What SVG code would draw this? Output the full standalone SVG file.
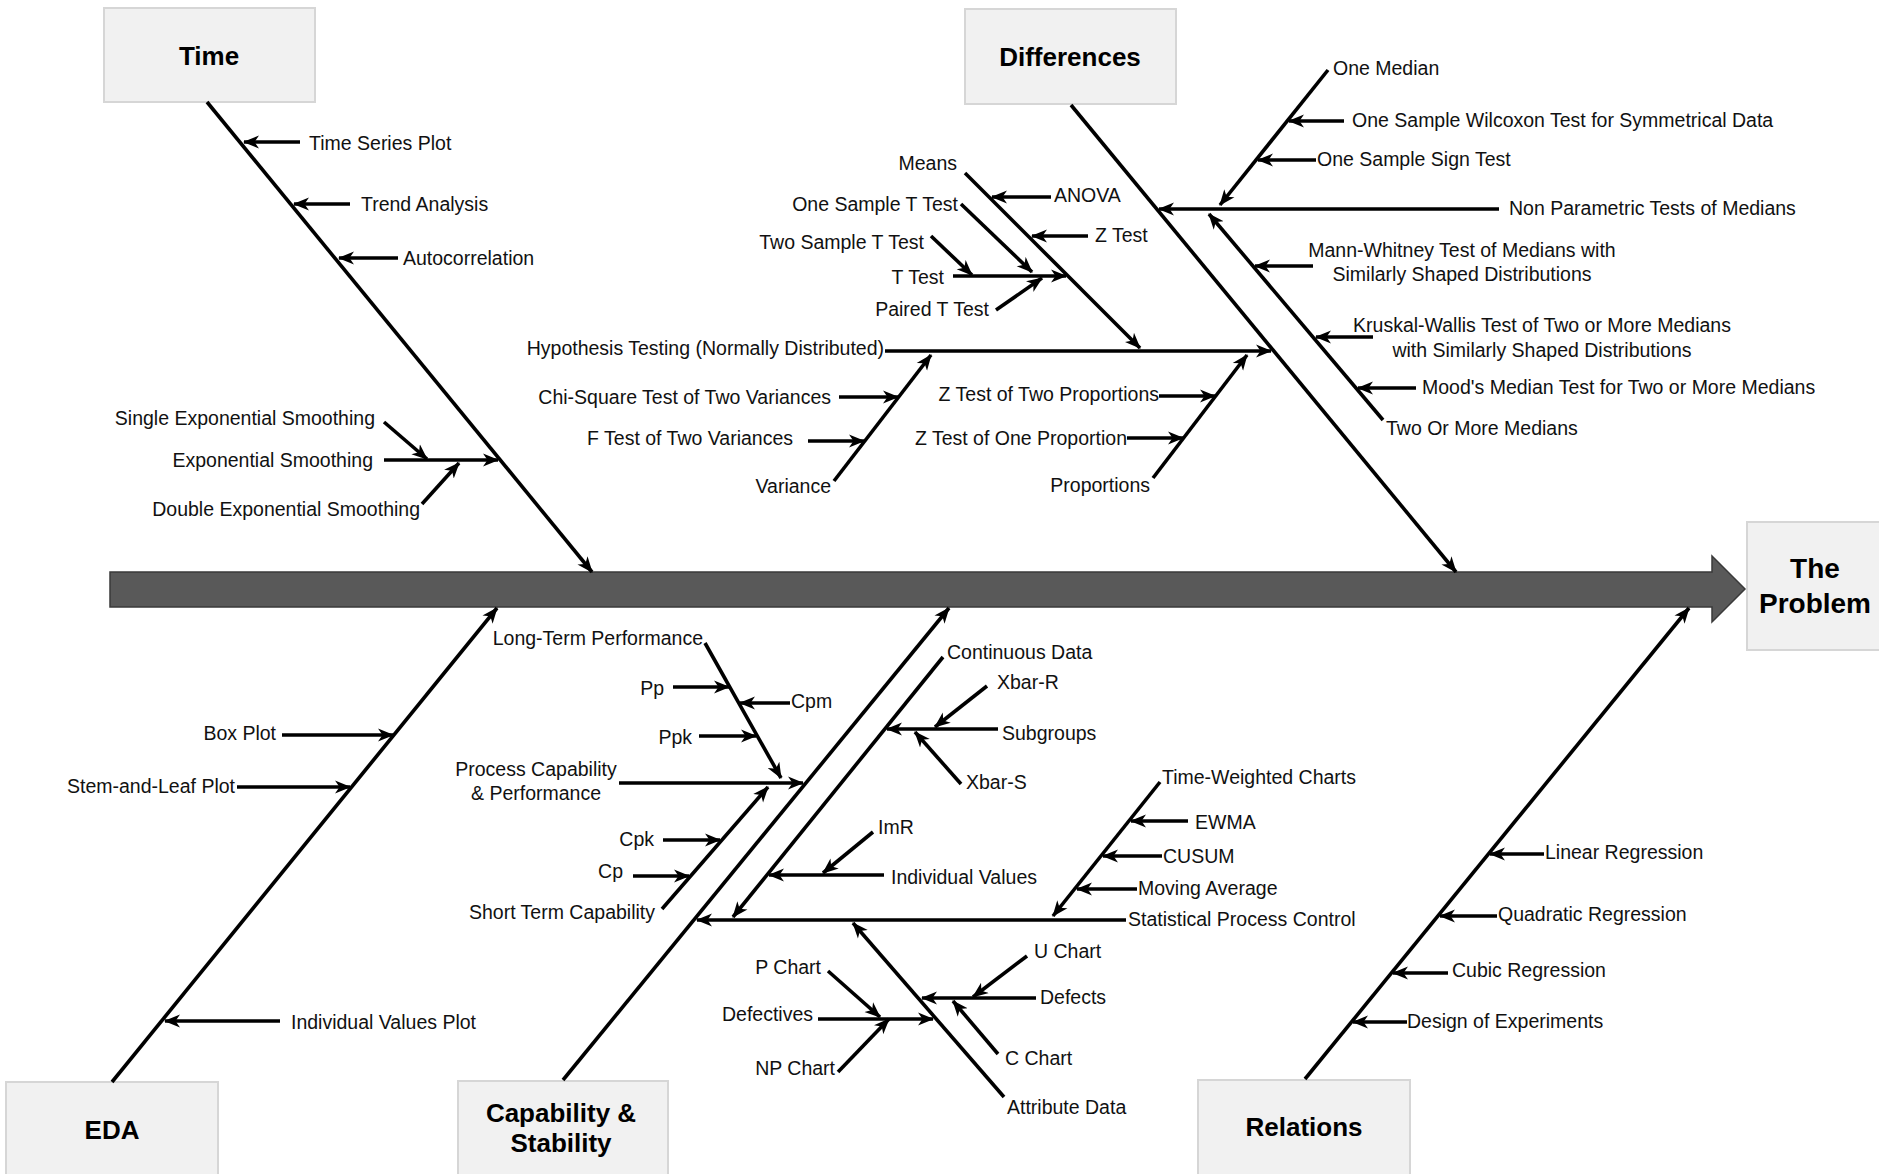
<svg xmlns="http://www.w3.org/2000/svg" width="1879" height="1174" viewBox="0 0 1879 1174">
<style>
.box{fill:#f1f1f1;stroke:#d6d6d6;stroke-width:2}
.hd{font-family:"Liberation Sans",Arial,sans-serif;font-weight:bold;font-size:26px;fill:#000;text-anchor:middle}
.t{font-family:"Liberation Sans",Arial,sans-serif;font-size:19.5px;fill:#111}
.e{text-anchor:end}
.m{text-anchor:middle}
.c line{stroke:#000;stroke-width:3.6;marker-end:url(#ah)}
</style>
<defs>
<marker id="ah" markerUnits="userSpaceOnUse" markerWidth="18" markerHeight="14" refX="15" refY="7" orient="auto">
<path d="M0,0.5 L16,7 L0,13.5 L4.5,7 Z" fill="#000"/>
</marker>
</defs>
<rect width="1879" height="1174" fill="#fff"/>

<g id="spine">
<polygon points="110,572 1712,572 1712,556 1745,589 1712,622 1712,607 110,607" fill="#595959" stroke="#3a3a3a" stroke-width="1.5"/>
</g>

<g id="node-problem"><rect class="box" x="1747" y="522" width="140" height="128"/><text class="hd" x="1815" y="578" style="font-size:28px">The</text><text class="hd" x="1815" y="613" style="font-size:28px">Problem</text></g>
<g id="node-time"><rect class="box" x="104" y="8" width="211" height="94"/><text class="hd" x="209" y="65">Time</text></g>
<g id="node-differences"><rect class="box" x="965" y="9" width="211" height="95"/><text class="hd" x="1070" y="66">Differences</text></g>
<g id="node-eda"><rect class="box" x="6" y="1082" width="212" height="100"/><text class="hd" x="112" y="1139">EDA</text></g>
<g id="node-capability"><rect class="box" x="458" y="1081" width="210" height="100"/><text class="hd" x="561" y="1122">Capability &amp;</text><text class="hd" x="561" y="1152">Stability</text></g>
<g id="node-relations"><rect class="box" x="1198" y="1080" width="212" height="100"/><text class="hd" x="1304" y="1136">Relations</text></g>

<g id="connectors" class="c">
<!-- main bones -->
<line x1="207" y1="102" x2="592" y2="572"/>
<line x1="1071" y1="105" x2="1456" y2="572"/>
<line x1="112" y1="1082" x2="497" y2="608"/>
<line x1="563" y1="1080" x2="949" y2="608"/>
<line x1="1305" y1="1079" x2="1689" y2="608"/>
<!-- time -->
<line x1="300" y1="142" x2="244" y2="142"/>
<line x1="350" y1="204" x2="294" y2="204"/>
<line x1="398" y1="258" x2="339" y2="258"/>
<line x1="384" y1="422" x2="427" y2="459"/>
<line x1="384" y1="460" x2="498" y2="460"/>
<line x1="422" y1="504" x2="459" y2="463"/>
<!-- eda -->
<line x1="282" y1="735" x2="393" y2="735"/>
<line x1="237" y1="787" x2="350" y2="787"/>
<line x1="280" y1="1021" x2="165" y2="1021"/>
<!-- differences: means -->
<line x1="965" y1="173" x2="1140" y2="348"/>
<line x1="1051" y1="197" x2="992" y2="197"/>
<line x1="1088" y1="236" x2="1032" y2="236"/>
<line x1="961" y1="204" x2="1032" y2="272"/>
<line x1="931" y1="236" x2="972" y2="275"/>
<line x1="953" y1="276" x2="1066" y2="276"/>
<line x1="996" y1="310" x2="1042" y2="278"/>
<line x1="885" y1="351" x2="1271" y2="351"/>
<line x1="834" y1="481" x2="931" y2="355"/>
<line x1="839" y1="397" x2="898" y2="397"/>
<line x1="808" y1="441" x2="864" y2="441"/>
<line x1="1153" y1="478" x2="1247" y2="355"/>
<line x1="1159" y1="396" x2="1215" y2="396"/>
<line x1="1127" y1="438" x2="1183" y2="438"/>
<!-- differences: medians -->
<line x1="1499" y1="209" x2="1159" y2="209"/>
<line x1="1328" y1="70" x2="1220" y2="205"/>
<line x1="1344" y1="121" x2="1289" y2="121"/>
<line x1="1316" y1="160" x2="1258" y2="160"/>
<line x1="1383" y1="420" x2="1209" y2="214"/>
<line x1="1313" y1="266" x2="1255" y2="266"/>
<line x1="1373" y1="337" x2="1316" y2="337"/>
<line x1="1416" y1="388" x2="1358" y2="388"/>
<!-- capability -->
<line x1="705" y1="643" x2="781" y2="778"/>
<line x1="673" y1="687" x2="729" y2="687"/>
<line x1="790" y1="703" x2="740" y2="703"/>
<line x1="699" y1="736" x2="756" y2="736"/>
<line x1="619" y1="783" x2="803" y2="783"/>
<line x1="662" y1="909" x2="768" y2="787"/>
<line x1="663" y1="840" x2="720" y2="840"/>
<line x1="633" y1="876" x2="689" y2="876"/>
<line x1="943" y1="657" x2="733" y2="917"/>
<line x1="998" y1="729" x2="887" y2="729"/>
<line x1="987" y1="686" x2="935" y2="727"/>
<line x1="961" y1="784" x2="915" y2="732"/>
<line x1="884" y1="875" x2="769" y2="875"/>
<line x1="873" y1="832" x2="823" y2="873"/>
<line x1="1126" y1="920" x2="697" y2="920"/>
<line x1="1160" y1="782" x2="1053" y2="916"/>
<line x1="1188" y1="821" x2="1131" y2="821"/>
<line x1="1162" y1="856" x2="1103" y2="856"/>
<line x1="1137" y1="889" x2="1077" y2="889"/>
<line x1="1004" y1="1097" x2="853" y2="923"/>
<line x1="1036" y1="998" x2="922" y2="998"/>
<line x1="1027" y1="956" x2="973" y2="997"/>
<line x1="998" y1="1054" x2="953" y2="1001"/>
<line x1="818" y1="1019" x2="933" y2="1019"/>
<line x1="828" y1="971" x2="880" y2="1017"/>
<line x1="838" y1="1072" x2="889" y2="1019"/>
<!-- relations -->
<line x1="1544" y1="854" x2="1490" y2="854"/>
<line x1="1497" y1="916" x2="1440" y2="916"/>
<line x1="1448" y1="973" x2="1393" y2="973"/>
<line x1="1407" y1="1022" x2="1353" y2="1022"/>
</g>

<g id="labels-time" class="t">
<text id="l-tsp" x="309" y="150">Time Series Plot</text>
<text id="l-trend" x="361" y="211">Trend Analysis</text>
<text id="l-auto" x="403" y="265">Autocorrelation</text>
<text id="l-ses" class="e" x="375" y="425">Single Exponential Smoothing</text>
<text id="l-es" class="e" x="373" y="467">Exponential Smoothing</text>
<text id="l-des" class="e" x="420" y="516">Double Exponential Smoothing</text>
</g>

<g id="labels-eda" class="t">
<text id="l-box" class="e" x="276" y="740">Box Plot</text>
<text id="l-stem" class="e" x="235" y="793">Stem-and-Leaf Plot</text>
<text id="l-ivp" x="291" y="1029">Individual Values Plot</text>
</g>

<g id="labels-differences" class="t">
<text class="e" x="957" y="170">Means</text>
<text x="1054" y="202">ANOVA</text>
<text class="e" x="958" y="211">One Sample T Test</text>
<text x="1095" y="242">Z Test</text>
<text class="e" x="924" y="249">Two Sample T Test</text>
<text class="e" x="944" y="284">T Test</text>
<text class="e" x="989" y="316">Paired T Test</text>
<text class="e" x="884" y="355">Hypothesis Testing (Normally Distributed)</text>
<text class="e" x="831" y="404">Chi-Square Test of Two Variances</text>
<text class="e" x="793" y="445">F Test of Two Variances</text>
<text class="e" x="831" y="493">Variance</text>
<text class="e" x="1159" y="401">Z Test of Two Proportions</text>
<text class="e" x="1127" y="445">Z Test of One Proportion</text>
<text class="e" x="1150" y="492">Proportions</text>
<text x="1333" y="75">One Median</text>
<text x="1352" y="127">One Sample Wilcoxon Test for Symmetrical Data</text>
<text x="1317" y="166">One Sample Sign Test</text>
<text x="1509" y="215">Non Parametric Tests of Medians</text>
<text class="m" x="1462" y="257">Mann-Whitney Test of Medians with</text>
<text class="m" x="1462" y="281">Similarly Shaped Distributions</text>
<text class="m" x="1542" y="332">Kruskal-Wallis Test of Two or More Medians</text>
<text class="m" x="1542" y="357">with Similarly Shaped Distributions</text>
<text x="1422" y="394">Mood's Median Test for Two or More Medians</text>
<text x="1386" y="435">Two Or More Medians</text>
</g>

<g id="labels-capability" class="t">
<text class="e" x="703" y="645">Long-Term Performance</text>
<text class="e" x="664" y="695">Pp</text>
<text x="791" y="708">Cpm</text>
<text class="e" x="692" y="744">Ppk</text>
<text class="m" x="536" y="776">Process Capability</text>
<text class="m" x="536" y="800">&amp; Performance</text>
<text class="e" x="654" y="846">Cpk</text>
<text class="e" x="623" y="878">Cp</text>
<text class="e" x="655" y="919">Short Term Capability</text>
<text x="947" y="659">Continuous Data</text>
<text x="997" y="689">Xbar-R</text>
<text x="1002" y="740">Subgroups</text>
<text x="966" y="789">Xbar-S</text>
<text x="878" y="834">ImR</text>
<text x="891" y="884">Individual Values</text>
<text x="1162" y="784">Time-Weighted Charts</text>
<text x="1195" y="829">EWMA</text>
<text x="1163" y="863">CUSUM</text>
<text x="1138" y="895">Moving Average</text>
<text x="1128" y="926">Statistical Process Control</text>
<text x="1034" y="958">U Chart</text>
<text class="e" x="821" y="974">P Chart</text>
<text x="1040" y="1004">Defects</text>
<text class="e" x="813" y="1021">Defectives</text>
<text x="1005" y="1065">C Chart</text>
<text class="e" x="835" y="1075">NP Chart</text>
<text x="1007" y="1114">Attribute Data</text>
</g>

<g id="labels-relations" class="t">
<text x="1545" y="859">Linear Regression</text>
<text x="1498" y="921">Quadratic Regression</text>
<text x="1452" y="977">Cubic Regression</text>
<text x="1407" y="1028">Design of Experiments</text>
</g>
</svg>
